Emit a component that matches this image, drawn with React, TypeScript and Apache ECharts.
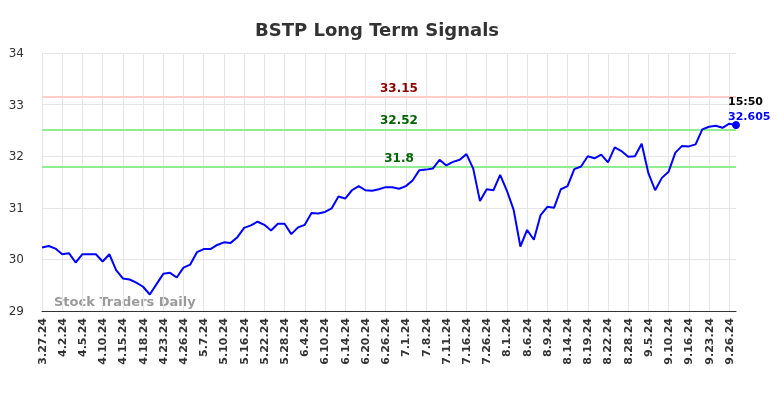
import React, { useEffect, useRef } from "react";
import * as echarts from "echarts";

const dates: string[] = [
  "3.27.24", "3.28.24", "4.1.24", "4.2.24", "4.3.24", "4.4.24", "4.5.24", "4.8.24", "4.9.24", "4.10.24",
  "4.11.24", "4.12.24", "4.15.24", "4.16.24", "4.17.24", "4.18.24", "4.19.24", "4.22.24", "4.23.24", "4.24.24",
  "4.25.24", "4.26.24", "5.1.24", "5.3.24", "5.7.24", "5.8.24", "5.9.24", "5.10.24", "5.13.24", "5.15.24",
  "5.16.24", "5.17.24", "5.21.24", "5.22.24", "5.23.24", "5.24.24", "5.28.24", "5.30.24", "6.3.24", "6.4.24",
  "6.6.24", "6.7.24", "6.10.24", "6.11.24", "6.13.24", "6.14.24", "6.17.24", "6.18.24", "6.20.24", "6.21.24",
  "6.25.24", "6.26.24", "6.27.24", "6.28.24", "7.1.24", "7.3.24", "7.5.24", "7.8.24", "7.9.24", "7.10.24",
  "7.11.24", "7.12.24", "7.15.24", "7.16.24", "7.18.24", "7.23.24", "7.26.24", "7.30.24", "7.31.24", "8.1.24",
  "8.2.24", "8.5.24", "8.6.24", "8.7.24", "8.8.24", "8.9.24", "8.12.24", "8.13.24", "8.14.24", "8.15.24",
  "8.16.24", "8.19.24", "8.20.24", "8.21.24", "8.22.24", "8.26.24", "8.27.24", "8.28.24", "8.30.24", "9.4.24",
  "9.5.24", "9.6.24", "9.9.24", "9.10.24", "9.12.24", "9.13.24", "9.16.24", "9.18.24", "9.20.24", "9.23.24",
  "9.24.24", "9.25.24", "9.26.24", "9.27.24",
];

const prices: number[] = [
  30.23, 30.26, 30.21, 30.10, 30.12, 29.94, 30.10, 30.10, 30.10, 29.96,
  30.10, 29.79, 29.63, 29.61, 29.55, 29.47, 29.32, 29.52, 29.72, 29.74,
  29.65, 29.84, 29.90, 30.14, 30.20, 30.20, 30.28, 30.33, 30.32, 30.43,
  30.61, 30.66, 30.73, 30.67, 30.56, 30.69, 30.69, 30.49, 30.62, 30.67,
  30.90, 30.89, 30.92, 30.99, 31.22, 31.18, 31.34, 31.42, 31.34, 31.33,
  31.36, 31.40, 31.40, 31.37, 31.42, 31.53, 31.73, 31.74, 31.76, 31.93,
  31.82, 31.89, 31.93, 32.04, 31.76, 31.13, 31.36, 31.34, 31.64, 31.33,
  30.96, 30.25, 30.57, 30.38, 30.86, 31.02, 31.00, 31.36, 31.42, 31.75,
  31.80, 32.00, 31.96, 32.03, 31.88, 32.17, 32.10, 31.99, 32.00, 32.24,
  31.67, 31.34, 31.58, 31.70, 32.07, 32.20, 32.19, 32.23, 32.52, 32.57,
  32.59, 32.55, 32.63, 32.605,
];

const signalLevels: number[] = [33.15, 32.52, 31.8];
const signalLineColors: string[] = ["#ffcccc", "#90ee90", "#90ee90"];
const signalTextColors: string[] = ["#8b0000", "#006400", "#006400"];
const lastTime = "15:50";
const yTicks = { min: 29, max: 34, interval: 1 };

const FONT = "DejaVu Sans";

export default function App() {
  const ref = useRef<HTMLDivElement>(null);

  useEffect(() => {
    if (!ref.current) return;
    const chart = echarts.init(ref.current, null, { renderer: "svg" });
    const lastIdx = prices.length - 1;
    const lastVal = prices[lastIdx];

    chart.setOption({
      animation: false,
      title: {
        text: "BSTP Long Term Signals",
        left: 250,
        top: 15,
        textStyle: { fontFamily: FONT, fontSize: 18, fontWeight: "bold", color: "#333" },
      },
      grid: { left: 42, right: 48, top: 53, bottom: 87, containLabel: false },
      xAxis: {
        type: "category",
        data: dates,
        boundaryGap: false,
        axisLine: { show: true, lineStyle: { color: "#333", width: 1 } },
        axisTick: { show: false },
        axisLabel: {
          interval: 2,
          rotate: 90,
          fontFamily: FONT,
          fontSize: 11,
          fontWeight: "bold",
          color: "#333",
          margin: 7,
        },
        splitLine: { show: true, interval: 2, lineStyle: { color: "#e6e6e6", width: 1 } },
      },
      yAxis: {
        type: "value",
        min: yTicks.min,
        max: yTicks.max,
        interval: yTicks.interval,
        axisLine: { show: false },
        axisTick: { show: false },
        axisLabel: { fontFamily: FONT, fontSize: 12, color: "#333", margin: 18 },
        splitLine: { show: true, lineStyle: { color: "#e6e6e6", width: 1 } },
      },
      graphic: [
        {
          type: "text",
          left: 54,
          top: 295,
          silent: true,
          style: {
            text: "Stock Traders Daily",
            fontFamily: FONT,
            fontSize: 13,
            fontWeight: "bold",
            fill: "rgba(120,120,120,0.75)",
          },
        },
      ],
      series: [
        {
          type: "line",
          data: prices,
          showSymbol: false,
          symbol: "none",
          lineStyle: { color: "#0000ff", width: 2 },
          itemStyle: { color: "#0000ff" },
          z: 5,
          markLine: {
            silent: true,
            symbol: "none",
            animation: false,
            data: signalLevels.map((lv, i) => ({
              yAxis: lv,
              lineStyle: { color: signalLineColors[i], width: 2, type: "solid" },
              label: {
                show: true,
                position: "insideMiddleTop",
                formatter: String(lv),
                color: signalTextColors[i],
                fontFamily: FONT,
                fontSize: 12,
                fontWeight: "bold",
                distance: 3,
                offset: [10, 0],
              },
            })),
          },
        },
        {
          type: "scatter",
          data: [[dates[lastIdx], lastVal]],
          symbol: "circle",
          symbolSize: 8,
          itemStyle: { color: "#0000ff", opacity: 1 },
          z: 6,
          silent: true,
          label: {
            show: true,
            position: "top",
            align: "left",
            offset: [-8, 8],
            formatter: () => `{t|${lastTime}}\n{v|${lastVal}}`,
            rich: {
              t: { color: "#000", fontWeight: "bold", fontSize: 11, fontFamily: FONT, lineHeight: 15 },
              v: { color: "#0000ff", fontWeight: "bold", fontSize: 11, fontFamily: FONT, lineHeight: 15 },
            },
          },
        },
      ],
    });

    return () => chart.dispose();
  }, []);

  return (
    <div
      ref={ref}
      style={{ position: "fixed", left: 0, top: 0, width: 784, height: 398 }}
    />
  );
}
